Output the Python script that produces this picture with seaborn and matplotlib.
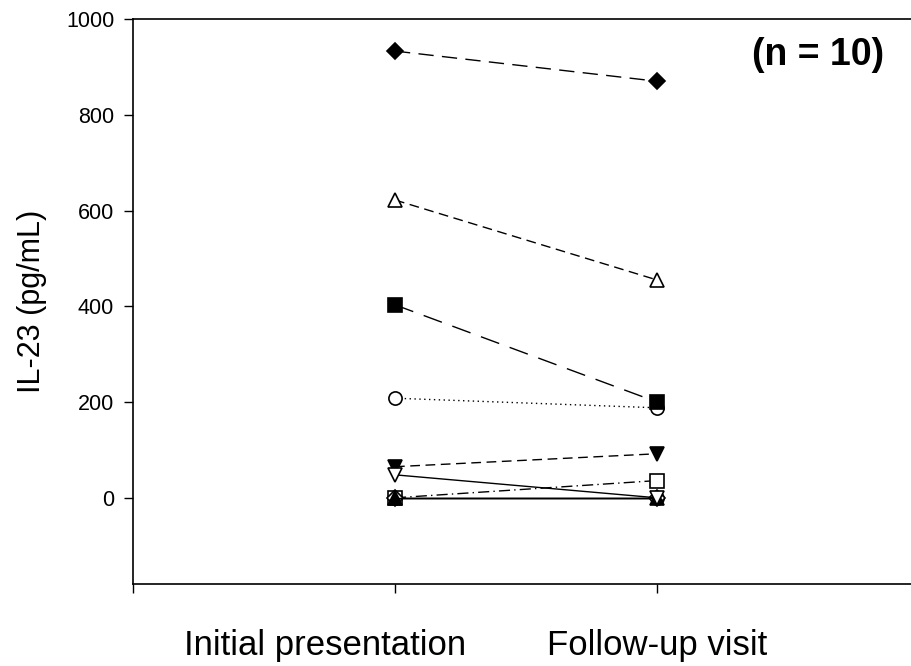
import pandas as pd
import seaborn as sns
import matplotlib.pyplot as plt
from matplotlib.transforms import ScaledTranslation

# IL-23 per patient, initial vs follow-up
visits = ['Initial presentation', 'Follow-up visit']
initial = [0, 208, 65, 622, 403, 0, 933, 0, 0, 48]
followup = [0, 188, 92, 455, 200, 36, 870, 0, 0, 0]
markers = ['o', 'o', 'v', '^', 's', 's', 'D', 'D', '^', 'v']
filled = [True, False, True, False, True, False, True, False, True, False]
dashes = [None, (1, 2.5), (7, 4), (7, 4), (14, 8), (8, 3, 1, 3),
          (11, 6), None, None, None]

sns.set_theme(style='white')
plt.rcParams['font.family'] = ['Liberation Sans', 'DejaVu Sans']
plt.rcParams['text.color'] = 'black'
plt.rcParams['axes.labelcolor'] = 'black'
plt.rcParams['xtick.color'] = 'black'
plt.rcParams['ytick.color'] = 'black'

rows = []
for i in range(len(initial)):
    rows.append({'patient': i, 'x': 0, 'value': initial[i]})
    rows.append({'patient': i, 'x': 1, 'value': followup[i]})
df = pd.DataFrame(rows)

fig = plt.figure(figsize=(9.12, 6.66), dpi=100)
ax = fig.add_axes([133 / 912, 82 / 666, 786 / 912, 565 / 666])

for i in range(len(initial)):
    d = df[df['patient'] == i]
    sns.lineplot(data=d, x='x', y='value', ax=ax, color='black', linewidth=1,
                 marker=markers[i], markersize=9.5 if markers[i] != 'D' else 8.5,
                 markerfacecolor='black' if filled[i] else 'white',
                 markeredgecolor='black', markeredgewidth=1.2,
                 legend=False, zorder=3)
    if dashes[i] is not None:
        ax.lines[-1].set_dashes(dashes[i])

ax.set_xlim(-1, 2)
ax.set_ylim(-180, 1000)
ax.set_xticks([-1, 0, 1])
ax.set_xticklabels(['', visits[0], visits[1]], fontsize=25)
ax.set_yticks([0, 200, 400, 600, 800, 1000])
ax.set_yticklabels(['0', '200', '400', '600', '800', '1000'], fontsize=15.5)
ax.tick_params(axis='both', direction='out', length=6.5, width=1, color='black',
               labelcolor='black', left=True, bottom=True)
ax.tick_params(axis='x', pad=26)
ax.tick_params(axis='y', pad=7)
# first category label sits left of its tick in the original
lbl = ax.get_xticklabels()[1]
lbl.set_transform(lbl.get_transform() + ScaledTranslation(-0.7, 0, fig.dpi_scale_trans))
ax.set_xlabel('')
ax.set_ylabel('IL-23 (pg/mL)', fontsize=22, labelpad=14, color='black')
for s in ['left', 'bottom', 'top']:
    ax.spines[s].set_color('black')
    ax.spines[s].set_linewidth(1.2)
ax.spines['right'].set_visible(False)

ax.text(0.955, 0.936, '(n = 10)', transform=ax.transAxes, ha='right', va='center',
        fontsize=27, fontweight='bold', color='black')

fig.savefig('out.png', dpi=100)
